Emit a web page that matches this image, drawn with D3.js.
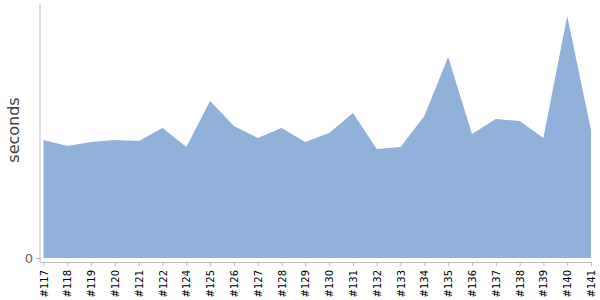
<!DOCTYPE html>
<html>
<head>
<meta charset="utf-8">
<script src="https://cdn.jsdelivr.net/npm/d3@7"></script>
<style>
  body { margin: 0; background: #fff; }
  text { font-family: "DejaVu Sans", sans-serif; }
</style>
</head>
<body>
<div id="chart"></div>
<script>
// build numbers (#123 is missing in the source)
const builds = ['#117', '#118', '#119', '#120', '#121', '#122', '#124', '#125', '#126', '#127', '#128', '#129',
  '#130', '#131', '#132', '#133', '#134', '#135', '#136', '#137', '#138', '#139', '#140', '#141'];
// duration per build, seconds
const durations = [48.8, 46.3, 47.9, 48.8, 48.3, 53.7, 45.9, 64.9, 54.5, 49.6, 53.7, 47.9,
  51.7, 59.9, 45.0, 45.9, 58.7, 83.1, 51.2, 57.4, 56.6, 49.6, 100, 52.9];
const yTicks = [0];

const width = 600, height = 300;

const svg = d3.select('#chart').append('svg')
  .attr('width', width)
  .attr('height', height);

const x = d3.scalePoint()
  .domain(builds)
  .range([43.5, 591]);

const y = d3.scaleLinear()
  .domain([0, d3.max(durations)])
  .range([258, 16]);

const area = d3.area()
  .x((d, i) => x(builds[i]))
  .y0(y(0))
  .y1(d => y(d));

svg.append('path')
  .datum(durations)
  .attr('fill', '#8fb1da')
  .attr('d', area);

// y axis
const yAxis = svg.append('g')
  .attr('transform', 'translate(40,0)')
  .call(d3.axisLeft(y).tickValues(yTicks).tickSize(4).tickPadding(3));
yAxis.select('.domain').remove();
yAxis.selectAll('line').attr('stroke', '#bbb');
yAxis.selectAll('text').attr('fill', '#666').style('font-size', '13px');
svg.append('line')
  .attr('x1', 40).attr('x2', 40)
  .attr('y1', 4).attr('y2', 262)
  .attr('stroke', '#bbb');

// x axis, offset a little below the plot
const xAxis = svg.append('g')
  .attr('transform', 'translate(0,262)')
  .call(d3.axisBottom(x).tickSize(4).tickSizeOuter(0));
xAxis.select('.domain').attr('stroke', '#bbb')
  .attr('d', 'M40,0.5H' + x(builds[builds.length - 1]));
xAxis.selectAll('line').attr('stroke', '#bbb');
xAxis.selectAll('text')
  .attr('fill', '#000')
  .style('font-size', '10px')
  .attr('text-anchor', 'end')
  .attr('transform', 'rotate(-90)')
  .attr('x', -8)
  .attr('y', 0)
  .attr('dy', '0.35em');

svg.append('text')
  .attr('transform', 'translate(19,130) rotate(-90)')
  .attr('text-anchor', 'middle')
  .attr('fill', '#444')
  .style('font-size', '16px')
  .text('seconds');
</script>
</body>
</html>
